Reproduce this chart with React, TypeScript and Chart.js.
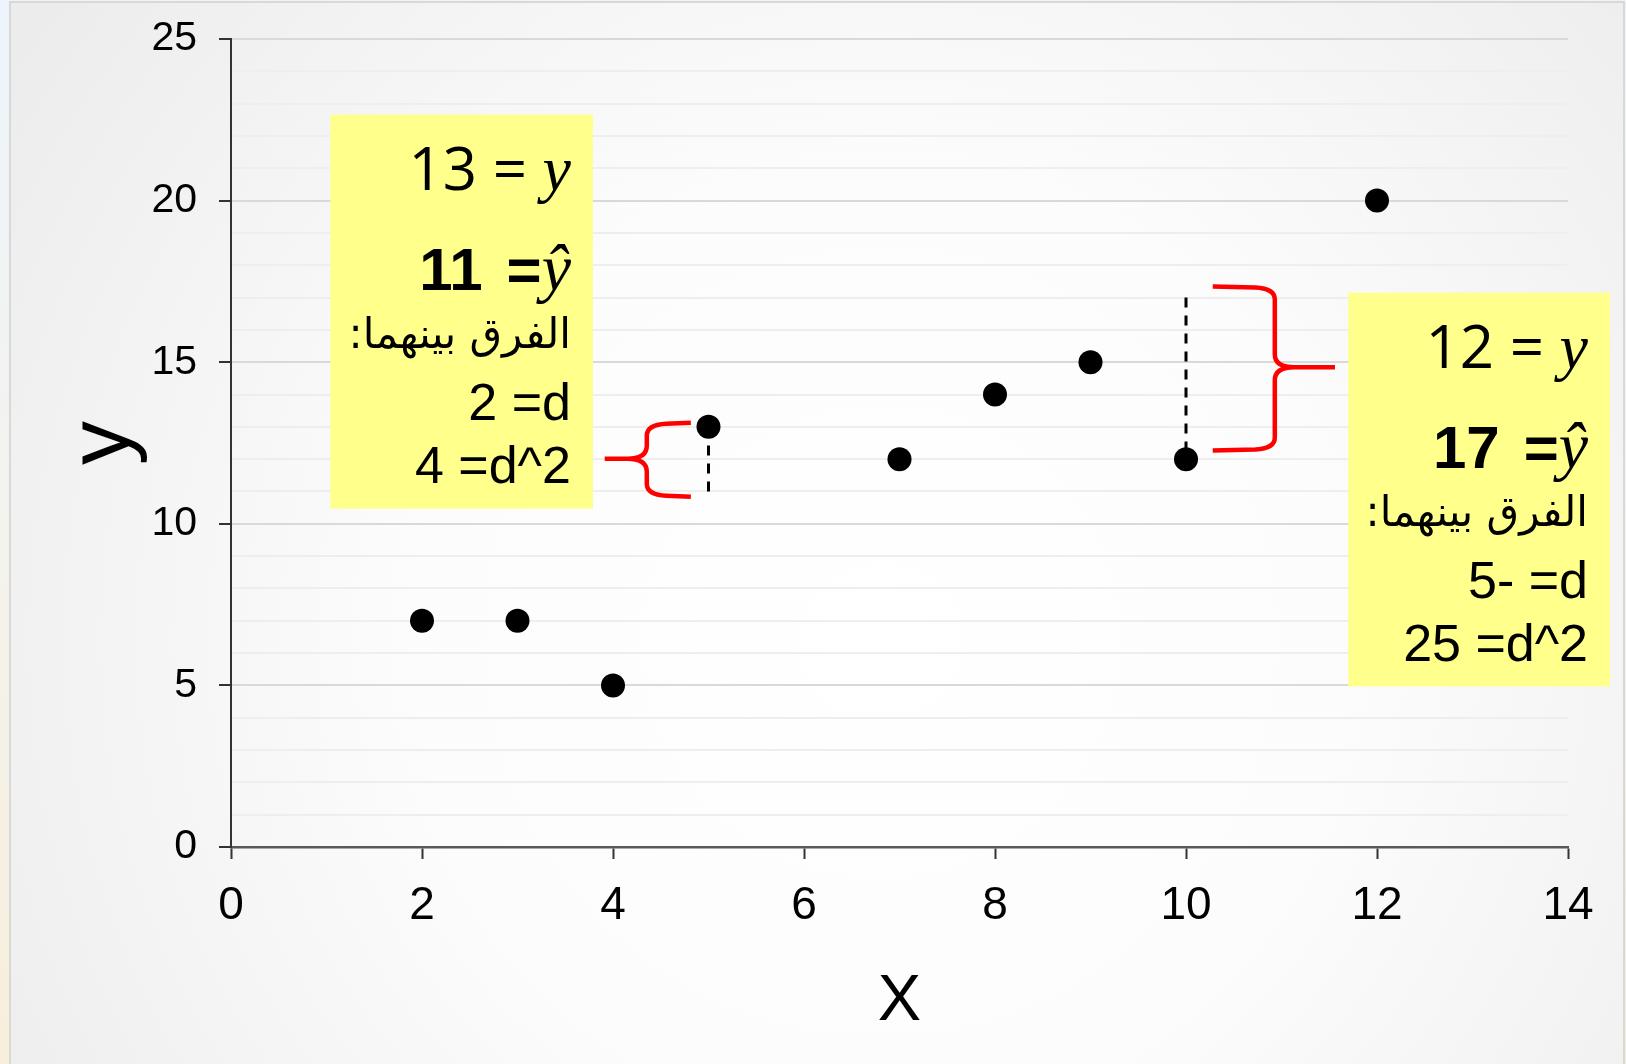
import { useEffect, useRef } from 'react';
import { Chart, registerables } from 'chart.js';

Chart.register(...registerables);

const W = 1626;
const H = 1064;

// Observed points
const xValues = [2, 3, 4, 5, 7, 8, 9, 10, 12];
const yValues = [7, 7, 5, 13, 12, 14, 15, 12, 20];

// Two highlighted observations: actual y and predicted y-hat
const residualX = [5, 10];
const residualY = [13, 12];
const residualYHat = [11, 17];
const diffLabel = 'الفرق بينهما:';

// Yellow call-out boxes (data units)
const boxLeft = [1.04, 11.7];
const boxRight = [3.79, 14.44];
const boxTop = [22.66, 17.15];
const boxBottom = [10.47, 4.97];

// Curly braces (data units): arm ends, spine, tip, and vertical extent
const braceArmX = [4.815, 10.28];
const braceSpineX = [4.354, 10.93];
const braceTipX = [3.913, 11.56];
const braceTopY = [13.13, 17.34];
const braceMidY = [12.01, 14.84];
const braceBottomY = [10.84, 12.27];

const SANS = '"Liberation Sans", Arial, sans-serif';
const SERIF = '"Liberation Serif", "Times New Roman", serif';

type Seg = { t: string; f: string; gap?: number };

function boxLines(i: number): { segs: Seg[]; dy: number; rtl?: boolean }[] {
  const y = residualY[i];
  const yh = residualYHat[i];
  const d = y - yh;
  const dText = d < 0 ? `${Math.abs(d)}- =d` : `${d} =d`;
  return [
    { segs: [{ t: `${y} = `, f: '60px "Open Sans"' }, { t: 'y', f: `italic 64px ${SERIF}` }], dy: 75 },
    {
      segs: [
        { t: `${yh}`, f: `bold 60px ${SANS}`, gap: 24 },
        { t: '=', f: `bold 60px ${SANS}` },
        { t: 'ŷ', f: `italic 66px ${SERIF}` },
      ],
      dy: 175,
    },
    { segs: [{ t: diffLabel, f: '42px "DejaVu Sans"' }], dy: 233, rtl: true },
    { segs: [{ t: dText, f: `52px ${SANS}` }], dy: 305 },
    { segs: [{ t: `${d * d} =d^2`, f: `52px ${SANS}` }], dy: 368 },
  ];
}

const backdrop = {
  id: 'backdrop',
  beforeDraw(chart: any) {
    const ctx: CanvasRenderingContext2D = chart.ctx;
    ctx.save();
    const strip = ctx.createLinearGradient(0, 0, 0, H);
    strip.addColorStop(0, '#edf4fb');
    strip.addColorStop(0.5, '#f4f3ee');
    strip.addColorStop(1, '#f8eedb');
    ctx.fillStyle = strip;
    ctx.fillRect(0, 0, W, H);
    const g = ctx.createRadialGradient(880, 640, 0, 880, 640, 1050);
    g.addColorStop(0, '#ffffff');
    g.addColorStop(0.45, '#fcfcfc');
    g.addColorStop(1, '#ececec');
    ctx.fillStyle = g;
    ctx.fillRect(11, 3, W - 14, H);
    ctx.strokeStyle = '#d8d8d8';
    ctx.lineWidth = 2;
    ctx.strokeRect(10, 2, W - 12, H + 10);
    ctx.restore();
  },
};

const callouts = {
  id: 'callouts',
  beforeDatasetsDraw(chart: any) {
    const ctx: CanvasRenderingContext2D = chart.ctx;
    const xs = chart.scales.x;
    const ys = chart.scales.y;
    ctx.save();

    // residual dashes
    ctx.strokeStyle = '#000';
    ctx.lineWidth = 3;
    ctx.setLineDash([10, 8]);
    residualX.forEach((x, i) => {
      const px = xs.getPixelForValue(x);
      ctx.beginPath();
      ctx.moveTo(px, ys.getPixelForValue(residualYHat[i]));
      ctx.lineTo(px, ys.getPixelForValue(residualY[i]));
      ctx.stroke();
    });
    ctx.setLineDash([]);

    // braces
    ctx.strokeStyle = '#ff0000';
    ctx.lineWidth = 4.5;
    ctx.lineJoin = 'round';
    braceArmX.forEach((_, i) => {
      const ax = xs.getPixelForValue(braceArmX[i]);
      const sx = xs.getPixelForValue(braceSpineX[i]);
      const tx = xs.getPixelForValue(braceTipX[i]);
      const t = ys.getPixelForValue(braceTopY[i]);
      const m = ys.getPixelForValue(braceMidY[i]);
      const b = ys.getPixelForValue(braceBottomY[i]);
      const r = 13;
      const dir = Math.sign(sx - ax);
      ctx.beginPath();
      ctx.moveTo(ax, t);
      ctx.lineTo(sx - dir * r * 1.5, t + 1);
      ctx.quadraticCurveTo(sx, t + 2, sx, t + r);
      ctx.lineTo(sx, m - r);
      ctx.quadraticCurveTo(sx, m, sx + dir * r * 1.5, m);
      ctx.lineTo(tx, m);
      ctx.moveTo(sx + dir * r * 1.5, m);
      ctx.quadraticCurveTo(sx, m, sx, m + r);
      ctx.lineTo(sx, b - r);
      ctx.quadraticCurveTo(sx, b - 2, sx - dir * r * 1.5, b - 1);
      ctx.lineTo(ax, b);
      ctx.stroke();
    });

    // yellow boxes with text
    boxLeft.forEach((_, i) => {
      const l = xs.getPixelForValue(boxLeft[i]);
      const r = xs.getPixelForValue(boxRight[i]);
      const t = ys.getPixelForValue(boxTop[i]);
      const b = ys.getPixelForValue(boxBottom[i]);
      ctx.fillStyle = '#ffff8c';
      ctx.fillRect(l, t, r - l, b - t);
      const right = r - 22;
      ctx.fillStyle = '#000';
      ctx.textBaseline = 'alphabetic';
      boxLines(i).forEach((line) => {
        const yb = t + line.dy;
        if (line.rtl) {
          ctx.direction = 'rtl';
          ctx.textAlign = 'right';
          ctx.font = line.segs[0].f;
          ctx.fillText(line.segs[0].t, right, yb);
          ctx.direction = 'ltr';
          return;
        }
        ctx.textAlign = 'left';
        let total = 0;
        line.segs.forEach((s) => {
          ctx.font = s.f;
          total += ctx.measureText(s.t).width + (s.gap || 0);
        });
        let x = right - total;
        line.segs.forEach((s) => {
          ctx.font = s.f;
          ctx.fillText(s.t, x, yb);
          x += ctx.measureText(s.t).width + (s.gap || 0);
        });
      });
    });
    ctx.restore();
  },
};

export default function App() {
  const ref = useRef<HTMLCanvasElement>(null);
  useEffect(() => {
    const chart = new Chart(ref.current as HTMLCanvasElement, {
      type: 'scatter',
      data: {
        datasets: [
          {
            data: xValues.map((x, i) => ({ x, y: yValues[i] })),
            backgroundColor: '#000000',
            borderWidth: 0,
            pointRadius: 12,
            pointHoverRadius: 12,
          },
        ],
      },
      options: {
        responsive: false,
        animation: false,
        devicePixelRatio: 1,
        layout: { padding: { top: 39, right: 58, left: 0, bottom: 0 } },
        plugins: { legend: { display: false }, tooltip: { enabled: false } },
        scales: {
          x: {
            type: 'linear',
            min: 0,
            max: 14,
            afterFit: (s: any) => {
              s.height = 217;
            },
            ticks: {
              stepSize: 2,
              color: '#000',
              padding: 20,
              font: { family: SANS, size: 46 },
            },
            grid: {
              drawOnChartArea: false,
              drawTicks: true,
              tickLength: 12,
              tickColor: '#333333',
              tickWidth: 2,
            },
            border: { color: '#595959', width: 2.5 },
            title: {
              display: true,
              text: 'X',
              color: '#000',
              font: { family: SANS, size: 65 },
              padding: { top: 0, bottom: 23 },
            },
          },
          y: {
            type: 'linear',
            min: 0,
            max: 25,
            afterFit: (s: any) => {
              s.width = 231;
              s.paddingTop = 20;
              s.paddingBottom = 20;
            },
            ticks: {
              stepSize: 1,
              autoSkip: false,
              color: '#000',
              padding: 22,
              font: { family: SANS, size: 41 },
              callback: (v: any) => (Number(v) % 5 === 0 ? String(v) : ''),
            },
            grid: {
              color: (c: any) => (c.tick && c.tick.value % 5 === 0 ? '#d9d9d9' : '#eeeeee'),
              lineWidth: 2,
              tickLength: 12,
              tickWidth: 2,
              tickColor: (c: any) => (c.tick && c.tick.value % 5 === 0 ? '#333333' : 'rgba(0,0,0,0)'),
            },
            border: { color: '#333333', width: 2 },
            title: {
              display: true,
              text: 'y',
              color: '#000',
              font: { family: SANS, size: 88 },
              padding: { top: 52, bottom: 0 },
            },
          },
        },
      },
      plugins: [backdrop, callouts],
    } as any);
    return () => chart.destroy();
  }, []);
  return (
    <div style={{ position: 'fixed', left: 0, top: 0, width: W, height: H }}>
      <canvas ref={ref} width={W} height={H} style={{ display: 'block', width: W, height: H }} />
    </div>
  );
}
